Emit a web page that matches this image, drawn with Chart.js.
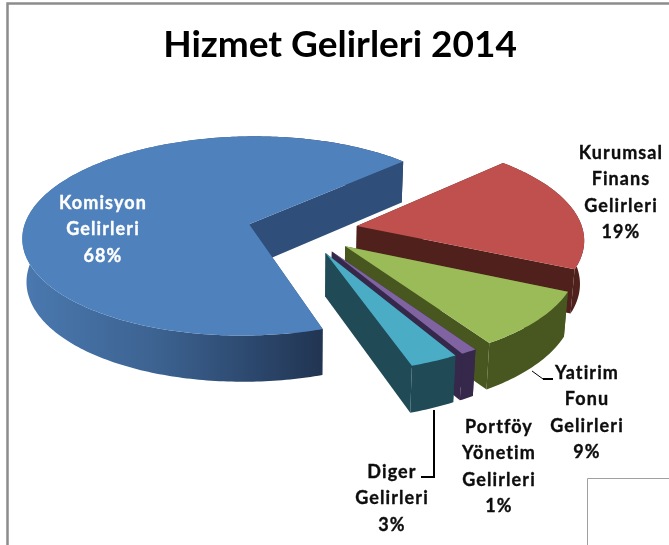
<!DOCTYPE html>
<html><head><meta charset="utf-8">
<style>html,body{margin:0;padding:0;background:#fff}canvas{display:block}</style>
<script src="https://cdn.jsdelivr.net/npm/chart.js@4/dist/chart.umd.min.js"></script>
</head><body><canvas id="c" width="669" height="545"></canvas>
<script>
const chartTitle = "Hizmet Gelirleri 2014";
const categories = [
  ["Komisyon","Gelirleri"],
  ["Kurumsal","Finans","Gelirleri"],
  ["Yatirim","Fonu","Gelirleri"],
  ["Portföy","Yönetim","Gelirleri"],
  ["Diger","Gelirleri"]
];
const values = [68, 19, 9, 1, 3];
const topColors = ["#4f81bd","#c0504d","#9bbb59","#8064a2","#4bacc6"];
const wallColors = ["#2f4f7a","#4f201c","#48561f","#35284a","#1f4a56"];

const view = {cx:302.5, cy:230, rx:226, ry:99.6, p:0.119, depth:43, sx:0.985, sy:1.03};
const labelAnchors = [
  {x:103,y:203,c:"#fff"},{x:621,y:153,c:"#0d0d0d"},{x:587,y:373,c:"#0d0d0d"},
  {x:499,y:427,c:"#0d0d0d"},{x:392,y:472,c:"#0d0d0d"}
];

const pie3d = {
  id:"pie3d",
  beforeDraw(chart){
    const g = chart.ctx;
    g.save();
    g.fillStyle="#fff"; g.fillRect(0,0,669,545);
    g.strokeStyle="#8c8c8c"; g.lineWidth=2.5;
    g.beginPath(); g.moveTo(7.5,545); g.lineTo(7.5,3.5); g.lineTo(669,3.5); g.stroke();
    g.strokeStyle="#a0a0a0"; g.lineWidth=1;
    g.beginPath(); g.moveTo(587.5,545); g.lineTo(587.5,478.5); g.lineTo(669,478.5); g.stroke();
    g.restore();
  },
  beforeDatasetsDraw(chart){
    const g = chart.ctx, meta = chart.getDatasetMeta(0), v = view;
    const map = (U,V)=>{const w=1-v.p*V; return [v.cx+v.rx*U/w, v.cy+v.ry*V/w];};
    const low = p => [v.cx+(p[0]-v.cx)*v.sx, v.cy+(p[1]-v.cy)*v.sy+v.depth];
    const polys = meta.data.map(el=>{
      const s=el.startAngle,e=el.endAngle,m=(s+e)/2;
      const o=(el.options.offset||0)/el.outerRadius;
      const u0=o*Math.cos(m), v0=o*Math.sin(m);
      const pts=[];
      const n=Math.max(6,Math.round((e-s)*60));
      for(let i=0;i<=n;i++){
        const a=s+(e-s)*i/n;
        pts.push(map(u0+Math.cos(a),v0+Math.sin(a)));
      }
      return {tip:map(u0,v0),pts};
    });
    polys.forEach((P,i)=>{
      const tip=P.tip, ring=P.pts;
      const quad=(a,b,fill)=>{
        const A=low(a),B=low(b);
        g.fillStyle=fill;
        g.beginPath(); g.moveTo(a[0],a[1]); g.lineTo(b[0],b[1]); g.lineTo(B[0],B[1]); g.lineTo(A[0],A[1]); g.closePath(); g.fill();
      };
      quad(tip,ring[0],wallColors[i]);
      let wall=wallColors[i];
      if(i===0){
        wall=g.createLinearGradient(22,0,326,0);
        wall.addColorStop(0,"#4a79b0");
        wall.addColorStop(0.45,"#3c6290");
        wall.addColorStop(0.8,"#2a4469");
        wall.addColorStop(1,"#213450");
      }
      g.fillStyle=wall;
      g.beginPath();
      ring.forEach((q,j)=>j?g.lineTo(q[0],q[1]):g.moveTo(q[0],q[1]));
      ring.slice().reverse().forEach(q=>{const L=low(q);g.lineTo(L[0],L[1]);});
      g.closePath(); g.fill();
      quad(tip,ring[ring.length-1],wallColors[i]);
      g.fillStyle=topColors[i];
      g.beginPath(); g.moveTo(tip[0],tip[1]);
      ring.forEach(q=>g.lineTo(q[0],q[1]));
      g.closePath(); g.fill();
    });
    return false;
  },
  afterDraw(chart){
    const g = chart.ctx;
    g.save();
    g.strokeStyle="#000"; g.lineJoin="miter";
    g.lineWidth=2;
    g.beginPath(); g.moveTo(434,410); g.lineTo(434,477); g.lineTo(421,477); g.stroke();
    g.lineWidth=1;
    g.beginPath(); g.moveTo(532,371); g.lineTo(543,379); g.stroke();
    g.lineWidth=2;
    g.beginPath(); g.moveTo(543,379); g.lineTo(553,379); g.stroke();
    g.font="bold 18px Lato"; g.textAlign="center"; g.textBaseline="middle";
    g.letterSpacing="1.1px"; g.lineWidth=0.35; g.lineJoin="round";
    categories.forEach((lines,i)=>{
      const a=labelAnchors[i], all=[...lines, values[i]+"%"];
      g.fillStyle=a.c; g.strokeStyle=a.c;
      all.forEach((t,j)=>{g.fillText(t,a.x,a.y+j*26.4); g.strokeText(t,a.x,a.y+j*26.4);});
    });
    g.restore();
  }
};

new Chart(document.getElementById("c"),{
  type:"pie",
  data:{labels:categories.map(l=>l.join(" ")),
    datasets:[{data:values,backgroundColor:topColors,borderWidth:0,offset:51}]},
  options:{
    responsive:false,animation:false,rotation:161.5,
    layout:{padding:{left:11,right:0,top:0,bottom:0}},
    plugins:{
      legend:{display:false},tooltip:{enabled:false},
      title:{display:true,text:chartTitle,color:"#000",
        font:{family:"Lato",size:37,weight:"bold"},padding:{top:23,bottom:10}}
    }
  },
  plugins:[pie3d]
});
</script></body></html>
